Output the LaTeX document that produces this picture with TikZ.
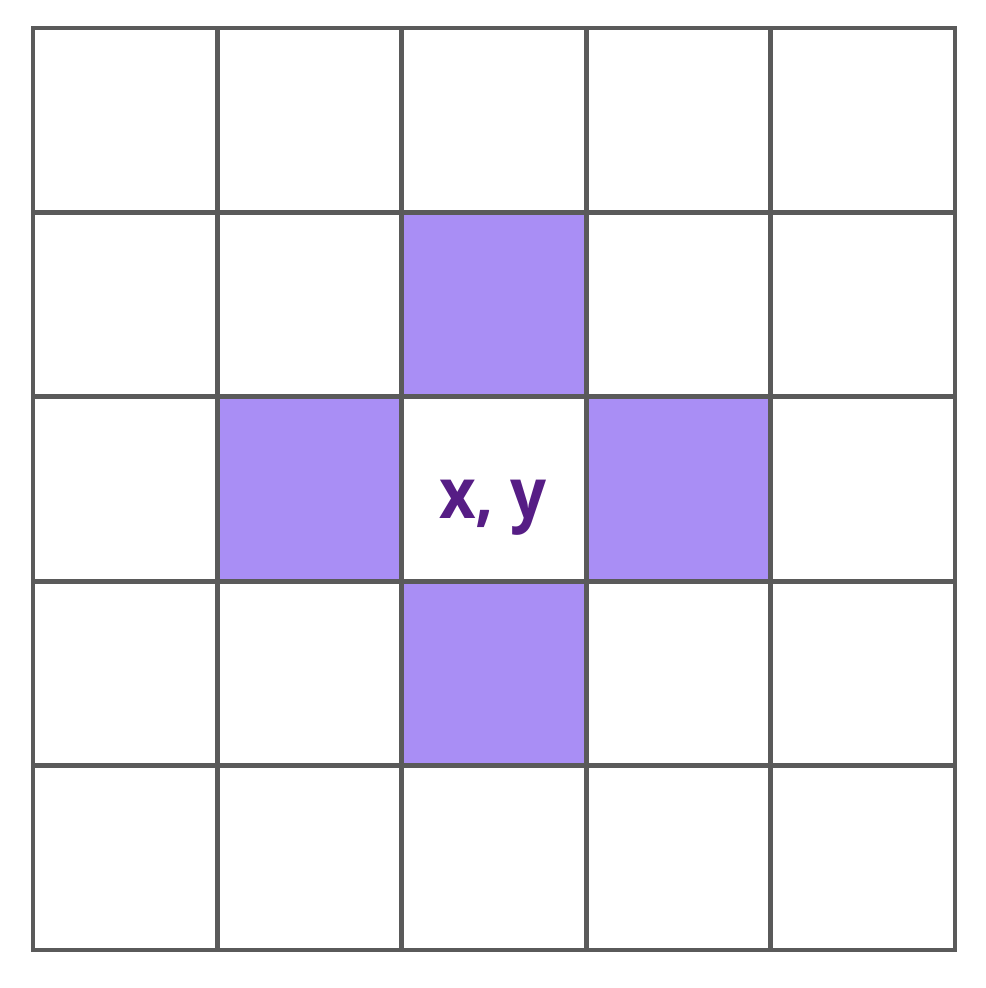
\documentclass[tikz,border=0pt]{standalone}
\usepackage{fontspec}
\setsansfont{Open Sans}
\definecolor{gridgray}{HTML}{5A5A5A}
\definecolor{cellpurple}{HTML}{A98EF5}
\definecolor{textpurple}{HTML}{561D85}
\tikzset{
  gridline/.style={draw=gridgray,line width=1.4pt,line cap=rect},
  neighbour/.style={fill=cellpurple},
  centrelabel/.style={text=textpurple,font=\sffamily\bfseries\fontsize{20}{24}\selectfont,anchor=base,inner sep=0pt,xscale=0.9}
}
\begin{document}
\begin{tikzpicture}[x=0.01cm,y=-0.01cm]
\useasboundingbox (0,0) rectangle (986,988);
% the four neighbours of the centre cell
\foreach \c/\r in {2/1,1/2,3/2,2/3}
  \fill[neighbour] ({33+\c*184.4},{28+\r*184.4}) rectangle ++(184.4,184.4);
% 5x5 grid
\foreach \i in {0,...,5} {
  \draw[gridline] ({33+\i*184.4},28) -- ({33+\i*184.4},950);
  \draw[gridline] (33,{28+\i*184.4}) -- (955,{28+\i*184.4});
}
\node[centrelabel] (centre) at (493,518) {x, y};
\end{tikzpicture}
\end{document}
